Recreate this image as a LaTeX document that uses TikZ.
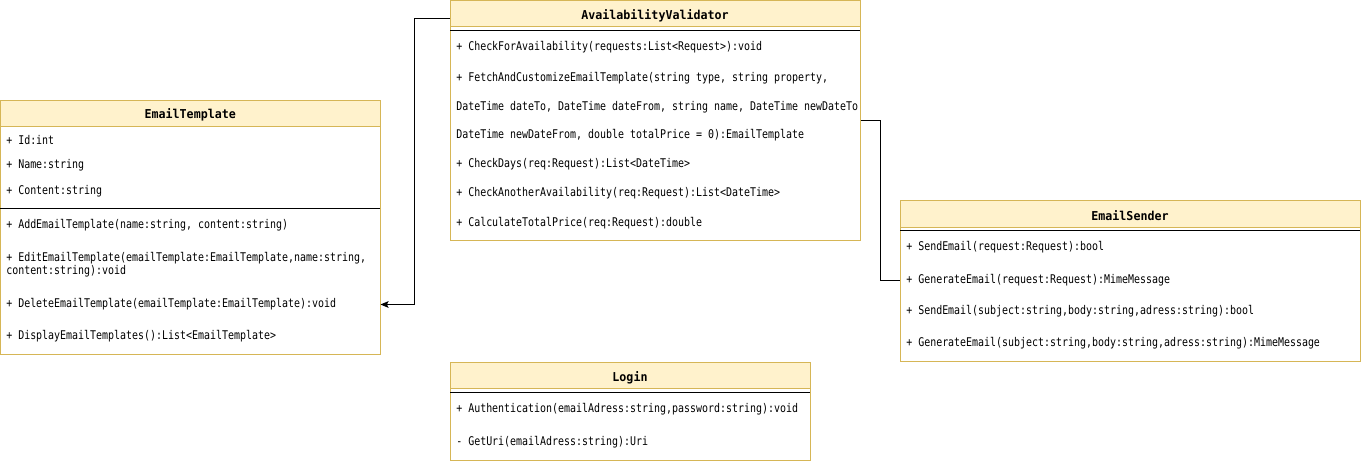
\documentclass[tikz,border=0pt]{standalone}
\usepackage{fontspec}
\newfontfamily\rowfont[FakeStretch=0.83]{DejaVu Sans Mono}
\newfontfamily\headfont[FakeStretch=0.95]{DejaVu Sans Mono}
\usetikzlibrary{fit,arrows.meta}
\definecolor{umlborder}{HTML}{D6B656}
\definecolor{umlhead}{HTML}{FFF2CC}
\tikzset{
  classbox/.style={draw=umlborder, fill=white, line width=0.75pt, inner sep=0pt},
  classhead/.style={draw=umlborder, fill=umlhead, line width=0.75pt, inner sep=0pt,
    label={[headtext]center:#1}},
  headtext/.style={inner sep=0pt, yshift=-1.5pt, font=\headfont\bfseries\fontsize{9.2}{10}\selectfont},
  member/.style={anchor=west, inner sep=0pt, align=left,
    font=\rowfont\fontsize{9}{9.75}\selectfont},
  sepline/.style={line width=0.75pt},
  link/.style={line width=0.75pt}
}
\begin{document}
\begin{tikzpicture}[x=0.75pt, y=-0.75pt]
\useasboundingbox (0,0) rectangle (1361,464);

% EmailTemplate
\node[classbox, fit={(0.5,100) (380,354)}] (et) {};
\node[classhead=EmailTemplate, fit={(0.5,100) (380,126)}] (ethead) {};
\node[member] (etid) at (6,140) {+ Id:int};
\node[member] (etname) at (6,165.5) {+ Name:string};
\node[member] (etcontent) at (6,191.5) {+ Content:string};
\draw[sepline] (0.5,208) -- (380,208);
\node[member] (etadd) at (6,225) {+ AddEmailTemplate(name:string, content:string)};
\node[member] (etedit) at (6,264.5) {+ EditEmailTemplate(emailTemplate:EmailTemplate,name:string,\\content:string):void};
\node[member] (etdel) at (6,304.5) {+ DeleteEmailTemplate(emailTemplate:EmailTemplate):void};
\node[member] (etshow) at (6,336) {+ DisplayEmailTemplates():List<EmailTemplate>};

% AvailabilityValidator
\node[classbox, fit={(450,0.5) (860,240)}] (av) {};
\node[classhead=AvailabilityValidator, fit={(450,0.5) (860,26.5)}] (avhead) {};
\draw[sepline] (450,30) -- (860,30);
\node[member] (avcheck) at (456,47.5) {+ CheckForAvailability(requests:List<Request>):void};
\node[member] (avfetch) at (456,78) {+ FetchAndCustomizeEmailTemplate(string type, string property,};
\begin{scope}
  \clip (450,0) rectangle (858,240);
  \node[member] (avdates) at (456,107) {DateTime dateTo, DateTime dateFrom, string name, DateTime newDateTo,};
\end{scope}
\node[member] (avprice) at (456,135.5) {DateTime newDateFrom, double totalPrice = 0):EmailTemplate};
\node[member] (avdays) at (456,164.5) {+ CheckDays(req:Request):List<DateTime>};
\node[member] (avanother) at (456,193.5) {+ CheckAnotherAvailability(req:Request):List<DateTime>};
\node[member] (avtotal) at (456,223.5) {+ CalculateTotalPrice(req:Request):double};

% EmailSender
\node[classbox, fit={(900,200.5) (1360,361.5)}] (es) {};
\node[classhead=EmailSender, fit={(900,200.5) (1360,227)}] (eshead) {};
\draw[sepline] (900,230) -- (1360,230);
\node[member] (essend) at (906,247.5) {+ SendEmail(request:Request):bool};
\node[member] (esgen) at (906,280) {+ GenerateEmail(request:Request):MimeMessage};
\node[member] (essendb) at (906,311.5) {+ SendEmail(subject:string,body:string,adress:string):bool};
\node[member] (esgenb) at (906,343.5) {+ GenerateEmail(subject:string,body:string,adress:string):MimeMessage};

% Login
\node[classbox, fit={(450,362.5) (810,460)}] (login) {};
\node[classhead=Login, fit={(450,362.5) (810,388.5)}] (loginhead) {};
\draw[sepline] (450,392) -- (810,392);
\node[member] (loginauth) at (456,409) {+ Authentication(emailAdress:string,password:string):void};
\node[member] (loginuri) at (456,442) {- GetUri(emailAdress:string):Uri};

% connectors
\draw[link, -{Stealth[length=6pt, width=5pt, inset=1.2pt]}] ([yshift=-4pt]avhead.west) -- ++(-35,0) |- (etdel -| et.east);
\draw[link] (av.east) -- ++(20,0) |- (esgen -| es.west);
\end{tikzpicture}
\end{document}
